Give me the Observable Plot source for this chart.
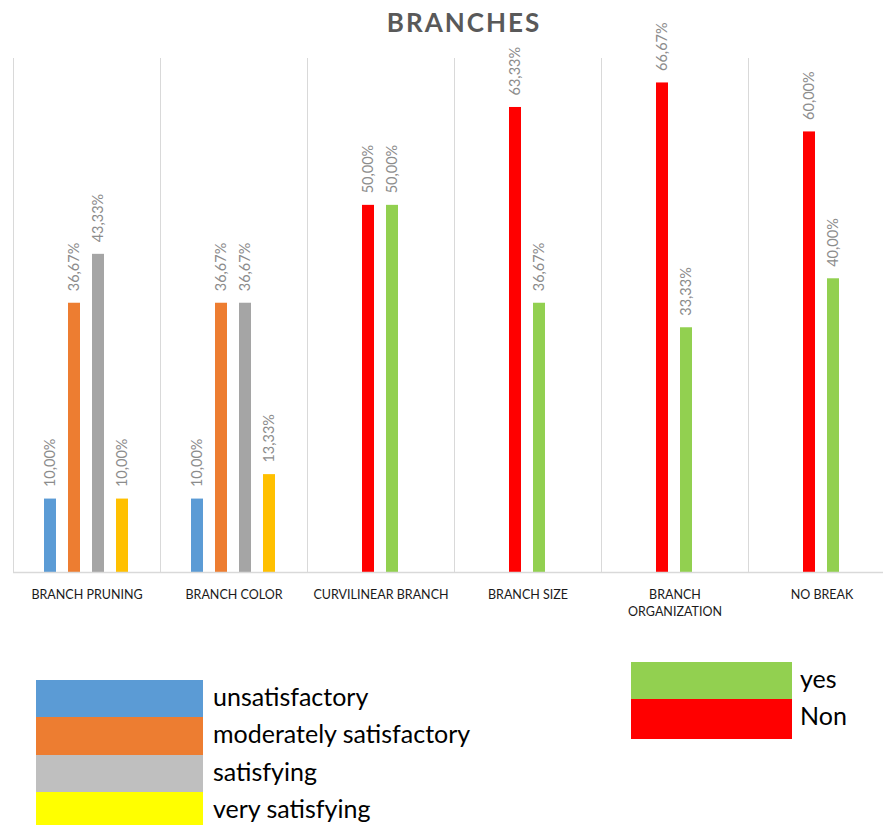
<!DOCTYPE html>
<html>
<head>
<meta charset="utf-8">
<script src="https://cdn.jsdelivr.net/npm/d3@7"></script>
<script src="https://cdn.jsdelivr.net/npm/@observablehq/plot@0.6"></script>
<style>
  html, body { margin: 0; padding: 0; background: #fff; overflow: hidden; }
  #chart { position: relative; width: 883px; height: 825px; overflow: hidden; font-family: Lato, "Open Sans", sans-serif; }
  #chart svg { position: absolute; left: 0; top: 0; max-width: none !important; }
  .title { position: absolute; top: 6px; left: 0; width: 928px; text-align: center; font: 700 26px Lato, sans-serif; letter-spacing: 2px; color: #595959; }
  .sw { position: absolute; }
  .lab { position: absolute; font: 400 25px Lato, sans-serif; color: #000; line-height: 1; transform: translateY(-50%); white-space: nowrap; }
</style>
</head>
<body>
<div id="chart"></div>
<script>
// Survey results for branch attributes (percent of responses)
const categories = ["BRANCH PRUNING", "BRANCH COLOR", "CURVILINEAR BRANCH", "BRANCH SIZE", "BRANCH ORGANIZATION", "NO BREAK"];

const unsatisfactory = [10.00, 10.00, null, null, null, null];
const moderatelySatisfactory = [36.67, 36.67, null, null, null, null];
const satisfying = [43.33, 36.67, null, null, null, null];
const verySatisfying = [10.00, 13.33, null, null, null, null];
const non = [null, null, 50.00, 63.33, 66.67, 60.00];
const yes = [null, null, 50.00, 36.67, 33.33, 40.00];

const ratingLegend = ["unsatisfactory", "moderately satisfactory", "satisfying", "very satisfying"];
const answerLegend = ["yes", "Non"];

// Each series sits in one of four slots within a category group
const series = [
  {name: "unsatisfactory", values: unsatisfactory, slot: 0, color: "#5b9bd5"},
  {name: "moderately satisfactory", values: moderatelySatisfactory, slot: 1, color: "#ed7d31"},
  {name: "satisfying", values: satisfying, slot: 2, color: "#a5a5a5"},
  {name: "very satisfying", values: verySatisfying, slot: 3, color: "#ffc000"},
  {name: "Non", values: non, slot: 1, color: "#ff0000"},
  {name: "yes", values: yes, slot: 2, color: "#92d050"}
];

const rows = [];
for (const s of series) {
  s.values.forEach((v, i) => {
    if (v != null) rows.push({category: categories[i], series: s.name, slot: s.slot, value: v});
  });
}

const fmt = v => v.toFixed(2).replace(".", ",") + "%";
const wrap = d => d.length > 18 ? d.replace(" ", "\n") : d;

const plot = Plot.plot({
  width: 898,
  height: 640,
  marginLeft: 11,
  marginRight: 1,
  marginTop: 58,
  marginBottom: 68,
  style: {fontFamily: "Lato, sans-serif", background: "transparent", maxWidth: "none"},
  fx: {domain: categories, padding: 0, axis: null},
  x: {domain: [0, 1, 2, 3], paddingInner: 0.48, paddingOuter: 1.2, axis: null},
  y: {domain: [0, 70], axis: null},
  color: {domain: series.map(s => s.name), range: series.map(s => s.color)},
  marks: [
    Plot.frame({anchor: "left", stroke: "#d9d9d9", strokeWidth: 1}),
    Plot.barY(rows, {fx: "category", x: "slot", y: "value", fill: "series"}),
    Plot.text(rows, {
      fx: "category", x: "slot", y: "value",
      text: d => fmt(d.value),
      rotate: -90, textAnchor: "start", dy: -12,
      fill: "#8c8c8c", fontSize: 14.5
    }),
    Plot.ruleY([0], {stroke: "#d9d9d9", strokeWidth: 1.5}),
    Plot.text(categories, {
      fx: d => d, text: wrap,
      frameAnchor: "bottom", lineAnchor: "top", dy: 15,
      lineHeight: 1.35, fontSize: 12.5, fill: "#1a1a1a"
    })
  ]
});

const chart = document.getElementById("chart");
chart.appendChild(plot);

const title = document.createElement("div");
title.className = "title";
title.textContent = "BRANCHES";
chart.appendChild(title);

// Legends drawn as colour blocks with labels
const ratingColors = ["#5b9bd5", "#ed7d31", "#bfbfbf", "#ffff00"];
const ratingTops = [680, 717, 755, 792];
ratingLegend.forEach((name, i) => {
  const sw = document.createElement("div");
  sw.className = "sw";
  Object.assign(sw.style, {left: "36px", top: ratingTops[i] + "px", width: "167px", height: "38px", background: ratingColors[i]});
  chart.appendChild(sw);
  const lab = document.createElement("div");
  lab.className = "lab";
  lab.textContent = name;
  Object.assign(lab.style, {left: "213px", top: (ratingTops[i] + 16) + "px"});
  chart.appendChild(lab);
});

const answerColors = ["#92d050", "#ff0000"];
const answerTops = [662, 699];
const answerHeights = [37, 40];
answerLegend.forEach((name, i) => {
  const sw = document.createElement("div");
  sw.className = "sw";
  Object.assign(sw.style, {left: "631px", top: answerTops[i] + "px", width: "161px", height: answerHeights[i] + "px", background: answerColors[i]});
  chart.appendChild(sw);
  const lab = document.createElement("div");
  lab.className = "lab";
  lab.textContent = name;
  Object.assign(lab.style, {left: "800px", top: (answerTops[i] + 16) + "px"});
  chart.appendChild(lab);
});
</script>
</body>
</html>
